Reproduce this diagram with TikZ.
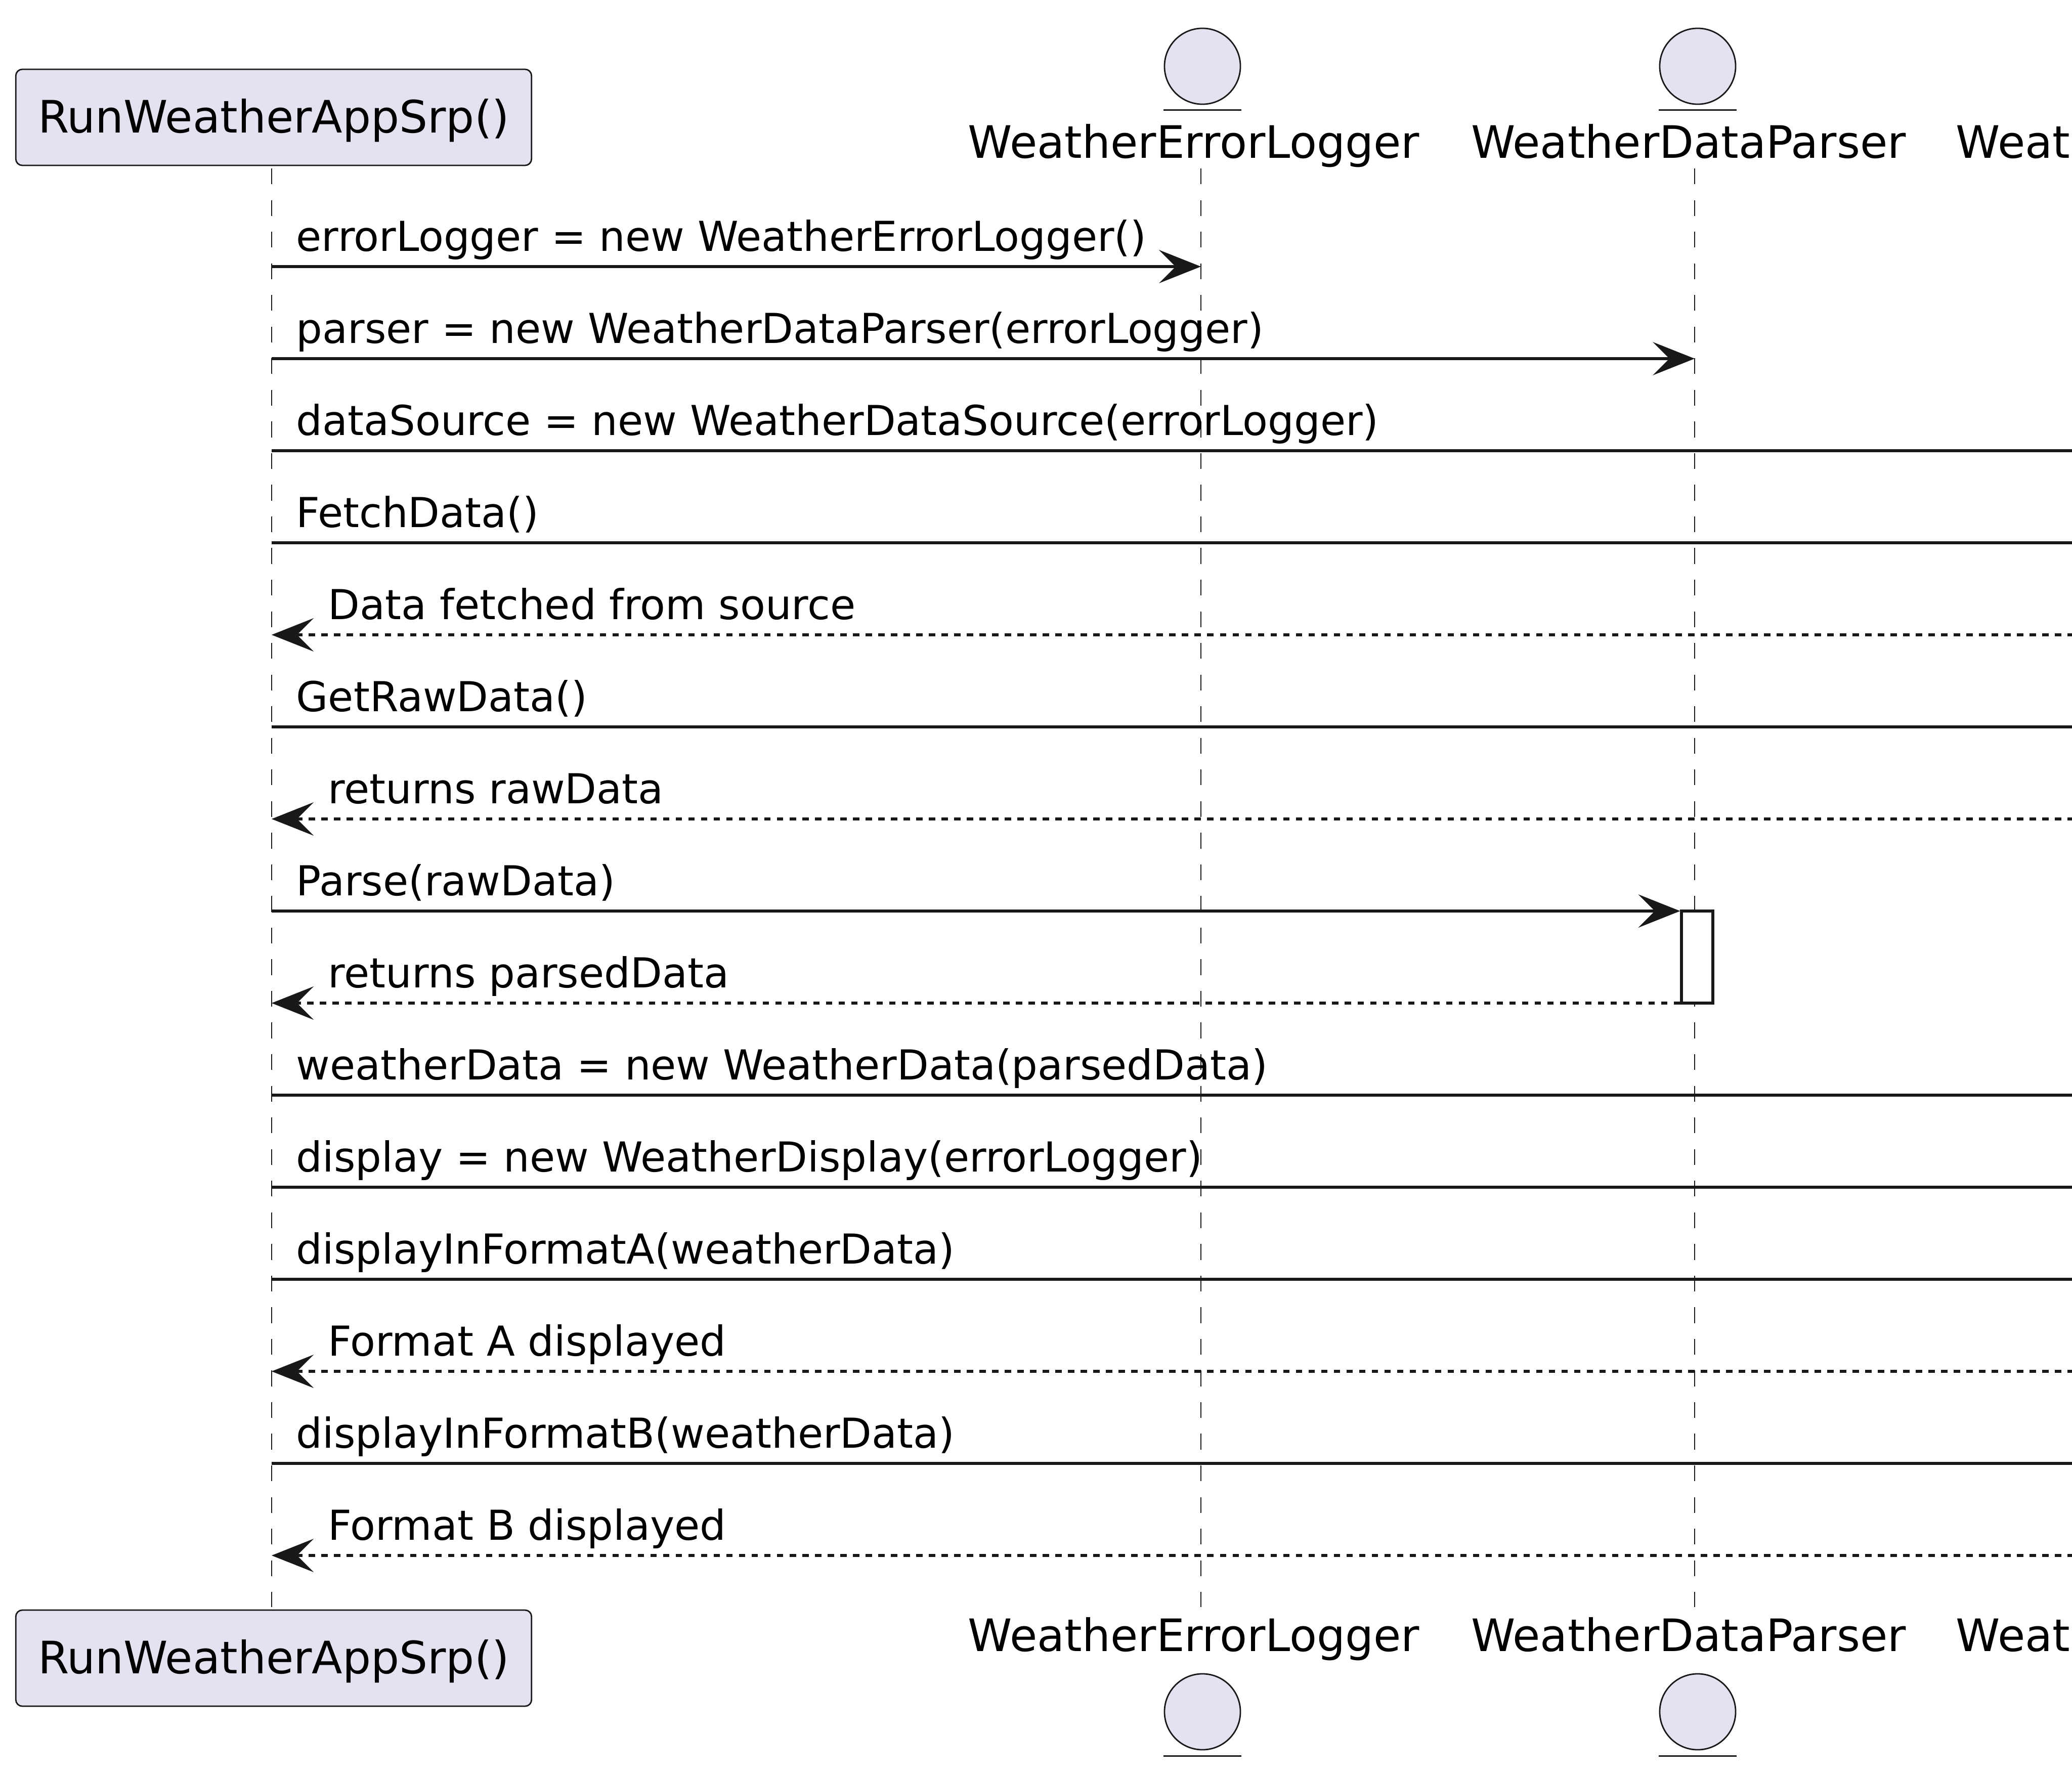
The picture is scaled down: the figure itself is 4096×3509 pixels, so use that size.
\documentclass[tikz,border=0pt]{standalone}
\usepackage{fontspec}
\setmainfont{DejaVu Sans}
\usetikzlibrary{arrows.meta}

\definecolor{partfill}{HTML}{E2E2F0}
\definecolor{seqline}{HTML}{181818}

\tikzset{
  partbox/.style={draw=seqline, fill=partfill, line width=0.8pt, rounded corners=0.13cm,
    minimum width=10.19cm, minimum height=1.9cm, inner sep=0pt,
    text height=0.72cm, text depth=0.11cm,
    font=\fontsize{25.13}{30}\selectfont},
  entitycirc/.style={circle, draw=seqline, fill=partfill, line width=0.8pt,
    minimum size=1.5cm, inner sep=0pt},
  entityline/.style={draw=seqline, line width=0.8pt},
  entitylbl/.style={anchor=base, inner sep=0pt, font=\fontsize{25.13}{30}\selectfont},
  msglbl/.style={anchor=base west, inner sep=0pt, font=\fontsize{23.2}{28}\selectfont},
  lifeline/.style={draw=seqline, line width=0.8pt, dash pattern=on 0.3125cm off 0.3125cm},
  callmsg/.style={draw=seqline, line width=1.5pt,
    -{Stealth[length=0.83cm, width=0.66cm, inset=0.33cm, line width=0pt]}},
  retmsg/.style={callmsg, dash pattern=on 0.125cm off 0.125cm},
  actbox/.style={draw=seqline, fill=white, line width=1.5pt, inner sep=0pt,
    minimum width=0.62cm, minimum height=1.82cm}
}

\begin{document}
\begin{tikzpicture}[x=0.01cm, y=-0.01cm]

  \useasboundingbox (0,0) rectangle (4096,3509);

  % lifeline ends
  \coordinate (runS) at (537,333);
  \coordinate (runE) at (537,3177);
  \coordinate (logS) at (2374,333);
  \coordinate (logE) at (2374,3177);
  \coordinate (parS) at (3350,333);
  \coordinate (parE) at (3350,3177);
  \coordinate (srcS) at (4200,333);

  % message rows
  \coordinate (m1) at (0,527);
  \coordinate (m2) at (0,709);
  \coordinate (m3) at (0,891);
  \coordinate (m4) at (0,1073);
  \coordinate (m5) at (0,1255);
  \coordinate (m6) at (0,1437);
  \coordinate (m7) at (0,1619);
  \coordinate (m8) at (0,1801);
  \coordinate (m9) at (0,1983);
  \coordinate (m10) at (0,2165);
  \coordinate (m11) at (0,2347);
  \coordinate (m12) at (0,2529);
  \coordinate (m13) at (0,2711);
  \coordinate (m14) at (0,2893);
  \coordinate (m15) at (0,3075);

  % lifelines
  \draw[lifeline] (runS) -- (runE);
  \draw[lifeline] (logS) -- (logE);
  \draw[lifeline] (parS) -- (parE);

  % participants, top
  \node[partbox] (runTop) at (541,232) {RunWeatherAppSrp()};
  \node[entitycirc] (logTop) at (2377,131) {};
  \node[entitycirc] (parTop) at (3356,131) {};
  \draw[entityline] (logTop.south) ++(-77,10) -- ++(154,0);
  \draw[entityline] (parTop.south) ++(-77,10) -- ++(154,0);
  \node[entitylbl] (logLbl) at (2360,312) {WeatherErrorLogger};
  \node[entitylbl] (parLbl) at (3338,312) {WeatherDataParser};
  \node[entitylbl, anchor=base west] (srcLbl) at (3866,312) {Weat};

  % participants, bottom
  \node[partbox] (runBot) at (541,3278) {RunWeatherAppSrp()};
  \node[entitycirc] (logBot) at (2377,3384) {};
  \node[entitycirc] (parBot) at (3356,3384) {};
  \draw[entityline] (logBot.south) ++(-77,11) -- ++(154,0);
  \draw[entityline] (parBot.south) ++(-77,11) -- ++(154,0);
  \node[entitylbl] (logLblB) at (2360,3264) {WeatherErrorLogger};
  \node[entitylbl] (parLblB) at (3338,3264) {WeatherDataParser};
  \node[entitylbl, anchor=base west] (srcLblB) at (3866,3264) {Weat};

  % activation
  \node[actbox] (act) at (3355,1892) {};

  % messages
  \draw[callmsg] (runS |- m1) -- (logS |- m1);
  \draw[callmsg] (runS |- m2) -- (parS |- m2);
  \draw[callmsg] (runS |- m3) -- (srcS |- m3);
  \draw[callmsg] (runS |- m4) -- (srcS |- m4);
  \draw[retmsg] (srcS |- m5) -- (runS |- m5);
  \draw[callmsg] (runS |- m6) -- (srcS |- m6);
  \draw[retmsg] (srcS |- m7) -- (runS |- m7);
  \draw[callmsg] (runS |- m8) -- (act.north west |- m8);
  \draw[retmsg] (act.south west |- m9) -- (runS |- m9);
  \draw[callmsg] (runS |- m10) -- (srcS |- m10);
  \draw[callmsg] (runS |- m11) -- (srcS |- m11);
  \draw[callmsg] (runS |- m12) -- (srcS |- m12);
  \draw[retmsg] (srcS |- m13) -- (runS |- m13);
  \draw[callmsg] (runS |- m14) -- (srcS |- m14);
  \draw[retmsg] (srcS |- m15) -- (runS |- m15);

  % message labels
  \node[msglbl] (lbl1) at (585,496) {errorLogger = new WeatherErrorLogger()};
  \node[msglbl] (lbl2) at (585,678) {parser = new WeatherDataParser(errorLogger)};
  \node[msglbl] (lbl3) at (585,860) {dataSource = new WeatherDataSource(errorLogger)};
  \node[msglbl] (lbl4) at (585,1042) {FetchData()};
  \node[msglbl] (lbl5) at (648,1224) {Data fetched from source};
  \node[msglbl] (lbl6) at (585,1406) {GetRawData()};
  \node[msglbl] (lbl7) at (648,1588) {returns rawData};
  \node[msglbl] (lbl8) at (585,1770) {Parse(rawData)};
  \node[msglbl] (lbl9) at (648,1952) {returns parsedData};
  \node[msglbl] (lbl10) at (585,2134) {weatherData = new WeatherData(parsedData)};
  \node[msglbl] (lbl11) at (585,2316) {display = new WeatherDisplay(errorLogger)};
  \node[msglbl] (lbl12) at (585,2498) {displayInFormatA(weatherData)};
  \node[msglbl] (lbl13) at (648,2680) {Format A displayed};
  \node[msglbl] (lbl14) at (585,2862) {displayInFormatB(weatherData)};
  \node[msglbl] (lbl15) at (648,3044) {Format B displayed};

\end{tikzpicture}
\end{document}
